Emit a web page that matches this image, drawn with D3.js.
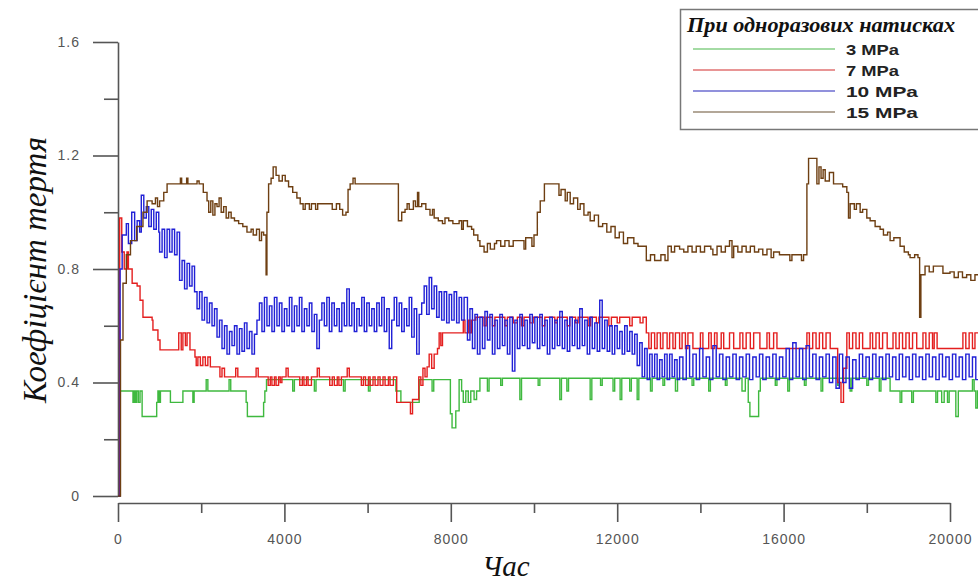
<!DOCTYPE html>
<html>
<head>
<meta charset="utf-8">
<script src="https://cdn.jsdelivr.net/npm/d3@7"></script>
<style>
  body { margin: 0; background: #fff; }
  svg { display: block; }
  .axis text { font-family: "Liberation Sans", Arial, sans-serif; font-size: 14px; fill: #555; letter-spacing: 1px; }
  .axis line, .axis path { stroke: #555; stroke-width: 1.6; }
  .title { font-family: "Liberation Serif", "Times New Roman", serif; font-style: italic; fill: #111; }
</style>
</head>
<body>
<svg id="chart" width="978" height="584"></svg>
<script>
// ticks
const xMajor = [0, 4000, 8000, 12000, 16000, 20000];
const xMinor = [2000, 6000, 10000, 14000, 18000];
const yMajor = [0, 0.4, 0.8, 1.2, 1.6];
const yMinor = [0.2, 0.6, 1.0, 1.4];

const seriesNames = ['3 MPa', '7 MPa', '10 MPa', '15 MPa'];

// 3 MPa (green)
const green = [[0,0],[50,0.37],[330,0.37],[360,0.33],[390,0.37],[420,0.33],[450,0.37],[490,0.33],[530,0.37],[580,0.28],[890,0.28],
  [930,0.33],[960,0.37],[990,0.33],[1020,0.37],[1230,0.37],[1260,0.33],[1530,0.33],[1560,0.37],[1780,0.37],[1800,0.33],[1830,0.37],
  [2120,0.41],[2160,0.37],[2670,0.41],[2710,0.37],[3080,0.33],[3110,0.28],[3470,0.28],[3500,0.33],[3530,0.37],[3570,0.41],
  [4180,0.41],[4200,0.37],[4240,0.41],[4700,0.41],[4720,0.37],[4760,0.41],[5400,0.41],[5420,0.37],[5460,0.41],[6000,0.41],
  [6020,0.37],[6060,0.41],[6640,0.41],[6680,0.37],[6800,0.33],[7200,0.33],[7240,0.41],[7520,0.41],[7550,0.37],[7590,0.41],
  [7960,0.41],[7990,0.29],[8030,0.24],[8120,0.30],[8200,0.41],[8260,0.37],[8300,0.33],[8360,0.37],[8420,0.33],[8480,0.37],
  [8560,0.34],[8620,0.37],[8700,0.415],[8880,0.37],[8920,0.415],[9200,0.39],[9240,0.415],[9660,0.34],[9700,0.415],[10100,0.39],
  [10140,0.415],[10620,0.34],[10660,0.415],[10790,0.37],[10830,0.415],[11350,0.34],[11390,0.415],[11600,0.39],[11640,0.415],
  [11900,0.37],[11940,0.415],[12070,0.34],[12110,0.415],[12300,0.37],[12340,0.415],[12480,0.34],[12520,0.415],[12800,0.37],
  [12840,0.415],[13100,0.39],[13140,0.415],[13400,0.37],[13450,0.415],[13800,0.39],[13840,0.415],[14200,0.37],[14240,0.415],
  [14600,0.39],[14640,0.415],[15000,0.37],[15080,0.415],[15150,0.33],[15190,0.28],[15360,0.28],[15400,0.37],[15440,0.415],
  [15800,0.39],[15840,0.415],[16100,0.37],[16140,0.415],[16500,0.39],[16540,0.415],[16900,0.37],[16940,0.415],[17300,0.39],
  [17340,0.415],[17600,0.37],[17640,0.415],[18000,0.39],[18040,0.415],[18300,0.37],[18340,0.415],[18560,0.37],[18780,0.37],
  [18800,0.33],[18840,0.37],[19080,0.33],[19120,0.37],[19660,0.33],[19700,0.37],[19800,0.33],[19860,0.37],[19940,0.33],
  [19980,0.37],[20140,0.28],[20200,0.37],[20500,0.37],[20540,0.41],[20580,0.37],[20620,0.31],[20660,0.37],[20700,0.37]];

// 7 MPa (red)
const red = [[0,0],[40,0.98],[90,0.86],[150,0.80],[216,0.86],[250,0.80],[340,0.75],[460,0.74],[530,0.69],[600,0.63],[820,0.62],
  [840,0.585],[960,0.55],[1010,0.515],[1440,0.515],[1460,0.575],[1520,0.515],[1560,0.575],[1620,0.53],[1660,0.575],[1730,0.515],
  [1850,0.49],[1880,0.46],[1920,0.49],[1980,0.46],[2040,0.49],[2100,0.46],[2160,0.49],[2220,0.455],[2380,0.455],[2450,0.42],
  [2500,0.45],[2560,0.42],[2830,0.45],[2880,0.42],[3320,0.45],[3370,0.42],[3610,0.39],[3660,0.42],[3700,0.39],[3760,0.42],
  [3800,0.39],[3860,0.42],[3900,0.40],[3940,0.42],[4040,0.45],[4090,0.42],[4370,0.39],[4430,0.42],[4470,0.39],[4530,0.42],
  [4570,0.39],[4650,0.42],[4790,0.45],[4840,0.42],[5090,0.39],[5150,0.42],[5200,0.39],[5270,0.42],[5310,0.39],[5370,0.42],
  [5510,0.45],[5560,0.42],[5850,0.39],[5900,0.42],[5950,0.39],[6020,0.42],[6060,0.39],[6130,0.42],[6180,0.39],[6250,0.42],
  [6300,0.39],[6370,0.42],[6420,0.39],[6500,0.42],[6540,0.39],[6620,0.42],[6700,0.33],[7000,0.33],[7030,0.29],[7080,0.34],
  [7230,0.42],[7280,0.39],[7330,0.45],[7380,0.42],[7430,0.455],[7480,0.50],[7540,0.45],[7600,0.50],[7680,0.52],[7720,0.575],
  [7760,0.53],[7800,0.575],[8300,0.62],[8340,0.575],[8420,0.62],[8460,0.575],[8500,0.62],[8600,0.63],[8800,0.60],[8850,0.63],
  [9000,0.60],[9060,0.63],[9300,0.60],[9360,0.63],[9500,0.61],[9600,0.63],[9700,0.60],[9760,0.63],[9900,0.61],[9980,0.63],
  [10200,0.60],[10260,0.63],[10500,0.61],[10560,0.63],[10800,0.60],[10860,0.63],[11000,0.61],[11060,0.63],[11300,0.60],
  [11360,0.63],[11500,0.61],[11560,0.63],[11800,0.60],[11860,0.63],[12000,0.61],[12060,0.63],[12300,0.60],[12360,0.63],
  [12550,0.61],[12620,0.63],[12700,0.575],[12760,0.52],[12820,0.575],[12900,0.52],[12960,0.575],[13040,0.52],[13100,0.575],
  [13200,0.52],[13260,0.575],[13340,0.52],[13400,0.575],[13500,0.52],[13560,0.575],[13640,0.52],[13700,0.575],[13820,0.52],
  [14000,0.575],[14060,0.52],[14200,0.575],[14260,0.52],[14340,0.575],[14400,0.52],[14500,0.575],[14560,0.52],[14700,0.575],
  [14800,0.52],[14950,0.575],[15020,0.52],[15100,0.575],[15200,0.52],[15280,0.575],[15430,0.52],[15600,0.575],[15660,0.52],
  [15760,0.575],[15840,0.52],[16560,0.575],[16620,0.52],[16700,0.575],[16780,0.52],[16860,0.575],[16940,0.52],[17020,0.575],
  [17120,0.52],[17300,0.40],[17380,0.33],[17440,0.45],[17520,0.575],[17580,0.52],[17660,0.575],[17740,0.52],[17820,0.575],
  [17900,0.52],[18080,0.575],[18140,0.52],[18220,0.575],[18300,0.52],[18380,0.575],[18490,0.52],[18630,0.575],[18700,0.52],
  [18780,0.575],[18860,0.52],[18940,0.575],[19020,0.52],[19100,0.575],[19200,0.52],[19350,0.575],[19420,0.52],[19500,0.575],
  [19580,0.52],[19620,0.575],[19690,0.52],[20310,0.575],[20380,0.52],[20460,0.575],[20540,0.52],[20600,0.575],[20700,0.575]];

// 10 MPa (blue)
const blue = [[0,0],[50,0.80],[100,0.92],[200,0.96],[250,0.89],[330,1.00],[400,0.90],[460,0.97],[520,0.93],[560,1.06],[620,0.98],
  [680,1.02],[740,0.95],[800,1.01],[860,0.94],[920,1.00],[980,0.93],[1000,0.86],[1060,0.94],[1120,0.84],[1180,0.94],[1240,0.86],
  [1300,0.94],[1360,0.85],[1420,0.93],[1480,0.76],[1540,0.83],[1600,0.73],[1660,0.82],[1720,0.74],[1780,0.81],[1840,0.72],
  [1900,0.66],[1960,0.72],[2020,0.62],[2080,0.70],[2140,0.61],[2200,0.68],[2260,0.60],[2320,0.66],[2380,0.56],[2440,0.62],
  [2500,0.52],[2560,0.60],[2620,0.50],[2680,0.58],[2740,0.53],[2800,0.60],[2860,0.50],[2920,0.59],[2980,0.51],[3040,0.61],
  [3100,0.52],[3160,0.58],[3220,0.50],[3280,0.57],[3340,0.62],[3400,0.68],[3460,0.58],[3520,0.70],[3580,0.60],[3640,0.67],
  [3700,0.58],[3760,0.70],[3820,0.60],[3880,0.68],[3940,0.58],[4000,0.66],[4060,0.60],[4120,0.70],[4180,0.58],[4240,0.67],
  [4300,0.60],[4360,0.70],[4420,0.58],[4480,0.66],[4540,0.60],[4600,0.68],[4660,0.58],[4720,0.64],[4780,0.52],[4840,0.62],
  [4900,0.68],[4960,0.60],[5020,0.70],[5080,0.58],[5140,0.68],[5200,0.60],[5260,0.66],[5320,0.58],[5380,0.68],[5440,0.60],
  [5500,0.73],[5560,0.60],[5620,0.68],[5680,0.58],[5740,0.66],[5800,0.60],[5860,0.70],[5920,0.58],[5980,0.68],[6040,0.60],
  [6100,0.66],[6160,0.58],[6220,0.68],[6280,0.60],[6340,0.70],[6400,0.58],[6460,0.66],[6520,0.52],[6580,0.62],[6640,0.70],
  [6700,0.60],[6760,0.68],[6820,0.58],[6880,0.66],[6940,0.60],[7000,0.70],[7060,0.56],[7120,0.66],[7180,0.50],[7240,0.64],
  [7300,0.68],[7360,0.74],[7420,0.64],[7480,0.77],[7540,0.66],[7600,0.74],[7660,0.63],[7720,0.72],[7780,0.62],[7840,0.72],
  [7900,0.61],[7960,0.71],[8020,0.62],[8080,0.72],[8140,0.61],[8200,0.70],[8260,0.62],[8320,0.70],[8400,0.55],[8460,0.66],
  [8520,0.52],[8580,0.64],[8640,0.50],[8700,0.63],[8760,0.52],[8820,0.65],[8880,0.55],[8940,0.64],[9000,0.50],[9060,0.62],
  [9120,0.52],[9180,0.64],[9240,0.53],[9300,0.62],[9360,0.50],[9420,0.63],[9480,0.44],[9540,0.62],[9600,0.52],[9660,0.64],
  [9720,0.53],[9780,0.62],[9840,0.52],[9900,0.64],[9960,0.54],[10020,0.63],[10080,0.52],[10140,0.64],[10200,0.53],[10260,0.62],
  [10320,0.50],[10380,0.63],[10440,0.52],[10500,0.62],[10560,0.53],[10620,0.65],[10680,0.52],[10740,0.62],[10800,0.51],
  [10860,0.63],[10920,0.53],[10980,0.62],[11040,0.52],[11100,0.66],[11160,0.53],[11220,0.62],[11280,0.50],[11340,0.63],
  [11400,0.52],[11460,0.61],[11520,0.51],[11580,0.69],[11640,0.52],[11700,0.62],[11760,0.51],[11820,0.60],[11880,0.50],
  [11940,0.60],[12000,0.52],[12060,0.58],[12120,0.50],[12180,0.60],[12240,0.51],[12300,0.58],[12360,0.50],[12420,0.57],
  [12480,0.46],[12540,0.54],[12600,0.42],[12660,0.52],[12720,0.41],[12780,0.50],[12840,0.42],[12900,0.50],[12960,0.41],
  [13020,0.48],[13080,0.42],[13140,0.50],[13200,0.41],[13260,0.50],[13320,0.42],[13380,0.48],[13440,0.41],[13500,0.49],
  [13580,0.41],[13660,0.53],[13740,0.42],[13820,0.50],[13900,0.41],[13980,0.52],[14060,0.42],[14140,0.49],[14220,0.41],
  [14300,0.53],[14380,0.42],[14460,0.50],[14540,0.41],[14620,0.49],[14700,0.42],[14780,0.50],[14860,0.41],[14940,0.49],
  [15020,0.42],[15100,0.50],[15180,0.41],[15260,0.49],[15340,0.42],[15420,0.50],[15500,0.41],[15580,0.49],[15660,0.42],
  [15740,0.50],[15820,0.41],[15900,0.49],[15980,0.42],[16060,0.52],[16140,0.41],[16220,0.54],[16300,0.42],[16380,0.52],
  [16460,0.41],[16540,0.53],[16620,0.42],[16700,0.50],[16780,0.41],[16860,0.49],[16940,0.42],[17020,0.50],[17100,0.40],
  [17180,0.49],[17260,0.38],[17340,0.50],[17420,0.40],[17500,0.49],[17580,0.38],[17660,0.48],[17740,0.41],[17820,0.50],
  [17900,0.42],[17980,0.49],[18060,0.41],[18140,0.50],[18220,0.42],[18300,0.49],[18380,0.41],[18460,0.50],[18540,0.42],
  [18620,0.49],[18700,0.41],[18780,0.50],[18860,0.42],[18940,0.49],[19020,0.41],[19100,0.50],[19180,0.42],[19260,0.49],
  [19340,0.41],[19420,0.50],[19500,0.42],[19580,0.49],[19660,0.41],[19740,0.50],[19820,0.42],[19900,0.49],[19980,0.41],
  [20060,0.50],[20140,0.42],[20220,0.49],[20300,0.41],[20380,0.50],[20460,0.42],[20540,0.49],[20620,0.41],[20700,0.47]];

// 15 MPa (brown)
const brown = [[0,0],[60,0.55],[120,0.75],[200,0.85],[300,0.90],[450,0.95],[600,1.00],[700,1.04],[820,1.03],[900,1.05],[950,1.02],
  [1000,1.04],[1100,1.07],[1180,1.10],[1500,1.12],[1530,1.10],[1650,1.12],[1680,1.10],[1900,1.11],[1950,1.10],[2050,1.07],
  [2140,1.04],[2180,1.00],[2230,1.04],[2280,0.99],[2330,1.03],[2380,1.02],[2430,1.05],[2480,1.00],[2540,1.02],[2600,0.98],
  [2660,1.00],[2720,0.98],[2800,0.97],[2900,0.96],[3000,0.95],[3100,0.93],[3200,0.94],[3250,0.92],[3330,0.94],[3400,0.90],
  [3450,0.93],[3500,0.92],[3560,0.78],[3580,1.00],[3620,1.10],[3680,1.12],[3730,1.16],[3800,1.13],[3870,1.11],[3950,1.13],
  [4020,1.11],[4100,1.09],[4200,1.07],[4300,1.05],[4380,1.03],[4450,1.01],[4500,1.03],[4600,1.01],[4650,1.03],[4750,1.01],
  [4800,1.03],[5100,1.03],[5150,1.01],[5250,1.03],[5330,1.01],[5400,0.99],[5480,1.00],[5530,1.08],[5580,1.10],[5650,1.12],
  [5700,1.10],[6700,1.10],[6740,0.97],[6820,1.00],[6900,1.01],[6950,1.03],[7000,1.01],[7100,1.04],[7150,1.02],[7200,1.07],
  [7230,1.02],[7300,1.03],[7400,1.01],[7500,0.99],[7560,1.01],[7600,0.98],[7700,0.97],[7800,0.96],[7860,0.98],[7950,0.97],
  [8050,0.96],[8200,0.97],[8260,0.94],[8300,0.97],[8400,0.95],[8500,0.94],[8550,0.92],[8650,0.90],[8700,0.88],[8800,0.86],
  [8880,0.89],[8950,0.87],[9050,0.89],[9100,0.90],[9200,0.88],[9300,0.90],[9400,0.88],[9500,0.90],[9720,0.90],[9760,0.87],
  [9800,0.91],[9900,0.91],[9950,0.88],[10000,0.92],[10080,1.00],[10150,1.04],[10250,1.10],[10560,1.10],[10600,1.06],
  [10650,1.08],[10750,1.04],[10800,1.07],[10870,1.03],[10950,1.05],[11050,1.01],[11110,1.03],[11200,0.99],[11300,1.00],
  [11350,0.97],[11450,0.99],[11550,0.95],[11650,0.96],[11750,0.93],[11850,0.95],[11950,0.91],[12050,0.93],[12150,0.89],
  [12250,0.91],[12400,0.89],[12500,0.88],[12650,0.88],[12700,0.83],[12800,0.85],[12900,0.83],[13050,0.85],[13150,0.83],
  [13220,0.88],[13300,0.86],[13380,0.88],[13500,0.87],[13600,0.86],[13700,0.88],[13800,0.86],[13900,0.88],[14000,0.86],
  [14100,0.88],[14250,0.87],[14300,0.85],[14400,0.88],[14500,0.86],[14600,0.88],[14700,0.90],[14760,0.84],[14800,0.88],
  [14900,0.86],[15000,0.88],[15100,0.86],[15200,0.88],[15300,0.86],[15400,0.87],[15500,0.85],[15600,0.87],[15700,0.84],
  [15760,0.86],[15900,0.85],[16150,0.83],[16200,0.85],[16430,0.83],[16480,0.85],[16560,1.10],[16600,1.19],[16760,1.19],
  [16800,1.10],[16850,1.16],[16900,1.12],[16950,1.15],[17000,1.11],[17100,1.14],[17200,1.10],[17420,1.09],[17520,1.07],
  [17560,0.98],[17600,1.03],[17700,1.01],[17750,1.03],[17840,1.00],[17900,1.01],[18000,0.98],[18080,0.97],[18200,0.95],
  [18320,0.94],[18400,0.92],[18500,0.93],[18560,0.90],[18650,0.91],[18800,0.88],[18900,0.86],[19000,0.85],[19040,0.84],
  [19150,0.85],[19230,0.84],[19270,0.63],[19300,0.78],[19400,0.81],[19500,0.79],[19600,0.81],[19760,0.81],[19830,0.785],
  [20000,0.79],[20100,0.77],[20200,0.79],[20300,0.77],[20400,0.78],[20500,0.76],[20600,0.78],[20700,0.77]];

const lineColors = ['#3fb93f', '#e41f1f', '#2020d6', '#6e3f12'];
const legendColors = ['#86cf86', '#e07272', '#6c6cd0', '#9a8a76'];
const series = [green, red, blue, brown];

const svg = d3.select('#chart');

const x = d3.scaleLinear().domain([0, 20000]).range([118, 950]);
const y = d3.scaleLinear().domain([0, 1.6]).range([496, 42]);

// y axis
svg.append('g').attr('class', 'axis').attr('transform', 'translate(118,0)')
  .call(d3.axisLeft(y).tickValues(yMajor).tickSize(25).tickSizeOuter(0).tickPadding(13)
    .tickFormat(d => d === 0 ? '0' : d3.format('.1f')(d)));
svg.append('g').attr('class', 'axis').attr('transform', 'translate(118,0)')
  .call(d3.axisLeft(y).tickValues(yMinor).tickSize(14).tickFormat(''))
  .select('.domain').remove();

// x axis
svg.append('g').attr('class', 'axis').attr('transform', 'translate(0,503)')
  .call(d3.axisBottom(x).tickValues(xMajor).tickSize(19).tickSizeOuter(0).tickPadding(12)
    .tickFormat(d3.format('d')));
svg.append('g').attr('class', 'axis').attr('transform', 'translate(0,503)')
  .call(d3.axisBottom(x).tickValues(xMinor).tickSize(10).tickFormat(''))
  .select('.domain').remove();

// lines
const line = d3.line().x(d => x(d[0])).y(d => y(d[1])).curve(d3.curveStepAfter);
svg.append('g').selectAll('path')
  .data(series)
  .enter().append('path')
    .attr('d', line)
    .attr('fill', 'none')
    .attr('stroke', (d, i) => lineColors[i])
    .attr('stroke-width', 1.4);

// axis titles
svg.append('text').attr('class', 'title')
  .attr('x', 506).attr('y', 576).attr('text-anchor', 'middle')
  .attr('font-size', 29).text('Час');
svg.append('text').attr('class', 'title')
  .attr('transform', 'translate(46,270) rotate(-90)').attr('text-anchor', 'middle')
  .attr('font-size', 33).text('Коефіцієнт тертя');

// legend
const lg = svg.append('g');
lg.append('rect').attr('x', 680.5).attr('y', 9.5).attr('width', 310).attr('height', 120)
  .attr('fill', '#fff').attr('stroke', '#777').attr('stroke-width', 1.5);
lg.append('text').attr('class', 'title')
  .attr('x', 687).attr('y', 32).attr('font-size', 20).attr('font-weight', 'bold')
  .attr('textLength', 268).attr('lengthAdjust', 'spacingAndGlyphs')
  .text('При одноразових натисках');
const labelWidths = [53, 53, 72, 72];
const rows = lg.selectAll('g.row').data(seriesNames).enter().append('g')
  .attr('transform', (d, i) => `translate(0,${49 + i * 21})`);
rows.append('line').attr('x1', 693).attr('x2', 835).attr('y1', 0).attr('y2', 0)
  .attr('stroke', (d, i) => legendColors[i]).attr('stroke-width', 1.5);
rows.append('text').attr('x', 846).attr('y', 5.5)
  .attr('font-family', '"Liberation Sans", Arial, sans-serif').attr('font-size', 15)
  .attr('font-weight', 'bold').attr('fill', '#222')
  .attr('textLength', (d, i) => labelWidths[i]).attr('lengthAdjust', 'spacingAndGlyphs')
  .text(d => d);
</script>
</body>
</html>
